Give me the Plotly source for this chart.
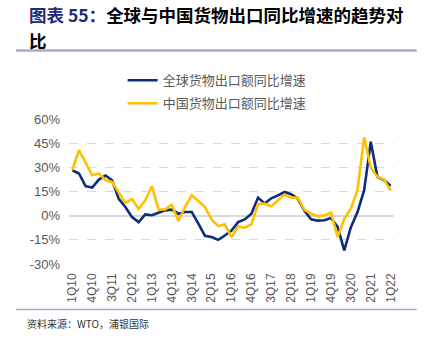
import plotly.graph_objects as go

# Quarterly labels 1Q10 .. 1Q22
quarters = [f"{q}Q{y:02d}" for y in range(10, 23) for q in range(1, 5)][:49]

# Year-on-year growth of goods exports (%)
global_exports = [28.2, 26.2, 18.3, 17.4, 22.4, 24.9, 22.0, 10.4, 5.4, -0.9,
                  -4.0, 0.8, 0.3, 1.9, 3.3, 3.7, 1.2, 2.3, 2.3, -5.0,
                  -12.5, -13.3, -15.0, -12.3, -9.2, -4.0, -2.3, 1.2, 11.2, 7.5,
                  10.8, 12.6, 14.7, 13.3, 10.6, 3.0, -2.2, -3.1, -2.8, -1.5,
                  -7.0, -21.6, -7.1, 2.2, 15.8, 45.9, 24.0, 22.1, 18.5]
china_exports = [28.2, 40.7, 33.0, 25.1, 26.2, 22.0, 20.9, 14.7, 7.9, 10.4,
                 4.1, 9.5, 18.3, 3.7, 3.9, 6.8, -3.3, 5.4, 12.6, 9.1,
                 5.4, -2.5, -6.5, -5.4, -13.3, -6.7, -7.5, -5.4, 7.1, 7.5,
                 5.8, 9.5, 13.1, 11.2, 11.2, 3.6, 1.2, -0.4, 0.2, 1.9,
                 -13.3, -1.9, 4.4, 16.0, 48.6, 29.9, 24.0, 22.4, 15.5]

series_names = ["全球货物出口额同比增速", "中国货物出口额同比增速"]
series_colors = ["#0B2D7A", "#FFC000"]

y_ticks = [-30, -15, 0, 15, 30, 45, 60]
x_tick_idx = list(range(0, 49, 3))

title_prefix = "图表 55："
title_line1 = "全球与中国货物出口同比增速的趋势对"
title_line2 = "比"
source_text = "资料来源：WTO，浦银国际"

idx = list(range(len(quarters)))
gray = "#595959"
cjk = "Noto Sans CJK SC"

fig = go.Figure()
for name, vals, col, grp in zip(series_names, [global_exports, china_exports],
                                series_colors, ["g1", "g2"]):
    fig.add_trace(go.Scatter(x=idx, y=vals, mode="lines", name=name,
                             legendgroup=grp,
                             line=dict(color=col, width=2.6)))

fig.update_layout(
    width=431, height=344, autosize=False,
    margin=dict(l=69, r=37, t=119, b=80, pad=0),
    paper_bgcolor="white", plot_bgcolor="white",
    font=dict(family=cjk, color=gray),
    showlegend=True,
    legend=dict(x=0.165, y=1.37, xanchor="left", yanchor="top",
                bgcolor="rgba(0,0,0,0)", itemwidth=30, tracegroupgap=3,
                font=dict(size=13, color=gray, family=cjk)),
    xaxis=dict(range=[-0.5, 48.5], tickmode="array", tickvals=x_tick_idx,
               ticktext=[quarters[i] for i in x_tick_idx], tickangle=-90,
               showgrid=False, zeroline=False, showline=False, ticks="",
               ticklabelstandoff=6,
               tickfont=dict(size=12, color=gray, family="Liberation Sans")),
    yaxis=dict(range=[-30, 60], tickmode="array", tickvals=y_ticks,
               ticktext=[f"{v}%" for v in y_ticks],
               showgrid=True, gridcolor="#D9D9D9", griddash="dash", gridwidth=1,
               zeroline=True, zerolinecolor="#D9D9D9", zerolinewidth=1.5,
               showline=False, ticks="", ticklabelstandoff=8,
               tickfont=dict(size=13, color=gray, family="Liberation Sans")),
)

# Heading (wrapped over two lines), rules and source note
fig.add_annotation(xref="paper", yref="paper", x=-0.129, y=1.722,
                   xanchor="left", yanchor="middle", showarrow=False,
                   text=(f"<b><span style='color:#1F2A78'>{title_prefix}</span>"
                         f"{title_line1}</b>"),
                   font=dict(size=17.5, color="#000000", family=cjk))
fig.add_annotation(xref="paper", yref="paper", x=-0.129, y=1.542,
                   xanchor="left", yanchor="middle", showarrow=False,
                   text=f"<b>{title_line2}</b>",
                   font=dict(size=17.5, color="#000000", family=cjk))
fig.add_shape(type="line", xref="paper", yref="paper", x0=-0.163, x1=1.07,
              y0=1.473, y1=1.473, line=dict(color="#A9A8CF", width=2.5))
fig.add_shape(type="line", xref="paper", yref="paper", x0=-0.163, x1=1.07,
              y0=-0.314, y1=-0.314, line=dict(color="#A9A8CF", width=1.5))
fig.add_annotation(xref="paper", yref="paper", x=-0.135, y=-0.41,
                   xanchor="left", yanchor="middle", showarrow=False,
                   text=source_text,
                   font=dict(size=10, color="#333333", family=cjk))

fig.write_html("out.html")
